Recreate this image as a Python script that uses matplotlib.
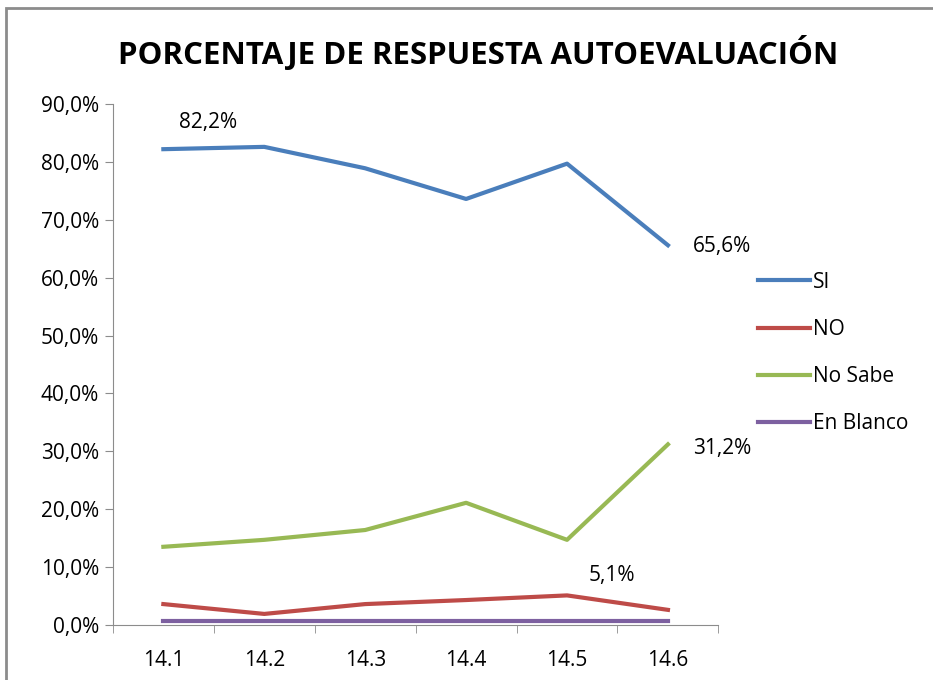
import matplotlib.pyplot as plt
from matplotlib.patches import Rectangle

plt.rcParams['font.family'] = ['Open Sans', 'DejaVu Sans']

categories = ["14.1", "14.2", "14.3", "14.4", "14.5", "14.6"]
si = [82.2, 82.6, 78.9, 73.6, 79.7, 65.6]
no = [3.6, 1.9, 3.6, 4.3, 5.1, 2.6]
no_sabe = [13.5, 14.7, 16.4, 21.1, 14.7, 31.2]
en_blanco = [0.7, 0.7, 0.7, 0.7, 0.7, 0.7]
y_ticks = [0, 10, 20, 30, 40, 50, 60, 70, 80, 90]

fig = plt.figure(figsize=(9.33, 6.8), dpi=100)
fig.patches.append(Rectangle((0.006, -0.1), 1.1, 1.088, transform=fig.transFigure,
                             fill=False, edgecolor="#8c8c8c", linewidth=2))
ax = fig.add_axes([0.121, 0.081, 0.649, 0.766])

x = range(len(categories))
ax.plot(x, si, color="#4A7EBB", lw=3, label="SI")
ax.plot(x, no, color="#BE4B48", lw=3, label="NO")
ax.plot(x, no_sabe, color="#98B954", lw=3, label="No Sabe")
ax.plot(x, en_blanco, color="#7D60A0", lw=3, label="En Blanco")

ax.set_xlim(-0.5, len(categories) - 0.5)
ax.set_ylim(0, 90)
ax.set_yticks(y_ticks)
ax.set_yticklabels([f"{v:.1f}%".replace(".", ",") for v in y_ticks])
ax.set_xticks(x)
ax.set_xticklabels(categories)
ax.set_xticks([i - 0.5 for i in range(len(categories) + 1)], minor=True)
ax.tick_params(axis="x", which="major", length=0, pad=18, labelsize=15)
ax.tick_params(axis="x", which="minor", length=6, color="#8c8c8c")
ax.tick_params(axis="y", length=6, color="#8c8c8c", labelsize=15, pad=4)
for s in ["top", "right"]:
    ax.spines[s].set_visible(False)
for s in ["left", "bottom"]:
    ax.spines[s].set_color("#8c8c8c")

def lab(i, v, dx, dy):
    ax.annotate(f"{v:.1f}%".replace(".", ","), (i, v), xytext=(dx, dy),
                textcoords="offset points", ha="center", va="center", fontsize=15)

lab(0, si[0], 32, 19)
lab(5, si[5], 39, -1)
lab(5, no_sabe[5], 39, -3)
lab(4, no[4], 32, 14)

fig.text(0.512, 0.922, "PORCENTAJE DE RESPUESTA AUTOEVALUACIÓN", ha="center",
         va="center", fontsize=22.5, fontweight="bold")

ax.legend(loc="upper left", bbox_to_anchor=(1.035, 0.714), frameon=False,
          fontsize=15, handlelength=2.5, handletextpad=0.1, labelspacing=1.25)

fig.savefig("out.png", dpi=100)
